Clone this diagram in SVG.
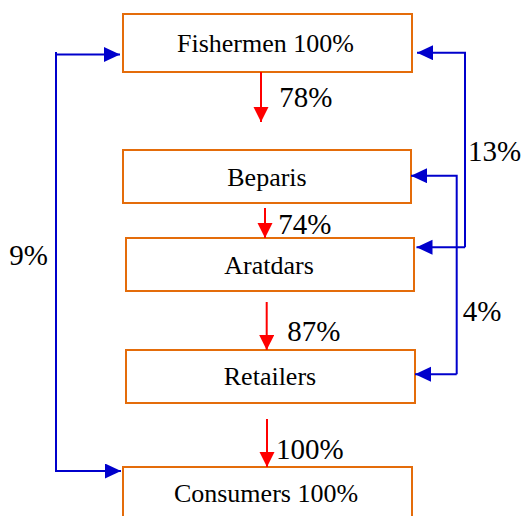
<svg xmlns="http://www.w3.org/2000/svg" width="522" height="516" viewBox="0 0 522 516" font-family="Liberation Serif, Times New Roman, serif">
<style>
.box{fill:#fff;stroke:#E46C0A;stroke-width:2}
.t{font-size:26px;text-anchor:middle;fill:#000}
.l{font-size:29px;fill:#000}
.red{fill:none;stroke:#FF0000;stroke-width:2}
.blue{fill:none;stroke:#0000CC;stroke-width:2}
</style>
<defs>
<marker id="ar" markerUnits="userSpaceOnUse" markerWidth="16" markerHeight="16" refX="15" refY="7.5" orient="auto">
<path d="M0,0 L15,7.5 L0,15 z" fill="#FF0000"/>
</marker>
<marker id="ab" markerUnits="userSpaceOnUse" markerWidth="17" markerHeight="16" refX="16" refY="7.5" orient="auto">
<path d="M0,0 L16,7.5 L0,15 z" fill="#0000CC"/>
</marker>
</defs>
<g id="fishermen"><rect class="box" x="123" y="14" width="289" height="58"/><text class="t" x="265.5" y="51.5">Fishermen 100%</text></g>
<g id="beparis"><rect class="box" x="123" y="150" width="288" height="53"/><text class="t" x="267" y="186">Beparis</text></g>
<g id="aratdars"><rect class="box" x="126" y="238" width="288" height="53"/><text class="t" x="269" y="274">Aratdars</text></g>
<g id="retailers"><rect class="box" x="126" y="350" width="289" height="53"/><text class="t" x="270" y="384.5">Retailers</text></g>
<g id="consumers"><rect class="box" x="123" y="467" width="289" height="60"/><text class="t" x="266" y="501.5">Consumers 100%</text></g>
<g id="connectors">
<path class="red" d="M261,72 V122" marker-end="url(#ar)"/>
<path class="red" d="M265,208 V238" marker-end="url(#ar)"/>
<path class="red" d="M266.7,302 V350" marker-end="url(#ar)"/>
<path class="red" d="M267,419 V467" marker-end="url(#ar)"/>
<path class="blue" d="M56,52 V471 H121" marker-end="url(#ab)"/>
<path class="blue" d="M56,54.5 H120" marker-end="url(#ab)"/>
<path class="blue" d="M465,247.3 V52.7 H417" marker-end="url(#ab)"/>
<path class="blue" d="M465,247.3 H416.5" marker-end="url(#ab)"/>
<path class="blue" d="M456.7,374.3 V175.7 H411" marker-end="url(#ab)"/>
<path class="blue" d="M456.7,374.3 H415" marker-end="url(#ab)"/>
<text class="l" x="279.3" y="107">78%</text>
<text class="l" x="278.3" y="234.3">74%</text>
<text class="l" x="287.3" y="340.7">87%</text>
<text class="l" x="276" y="459">100%</text>
<text class="l" x="468" y="160.7">13%</text>
<text class="l" x="9.3" y="265">9%</text>
<text class="l" x="462.7" y="320.7">4%</text>
</g>
</svg>
